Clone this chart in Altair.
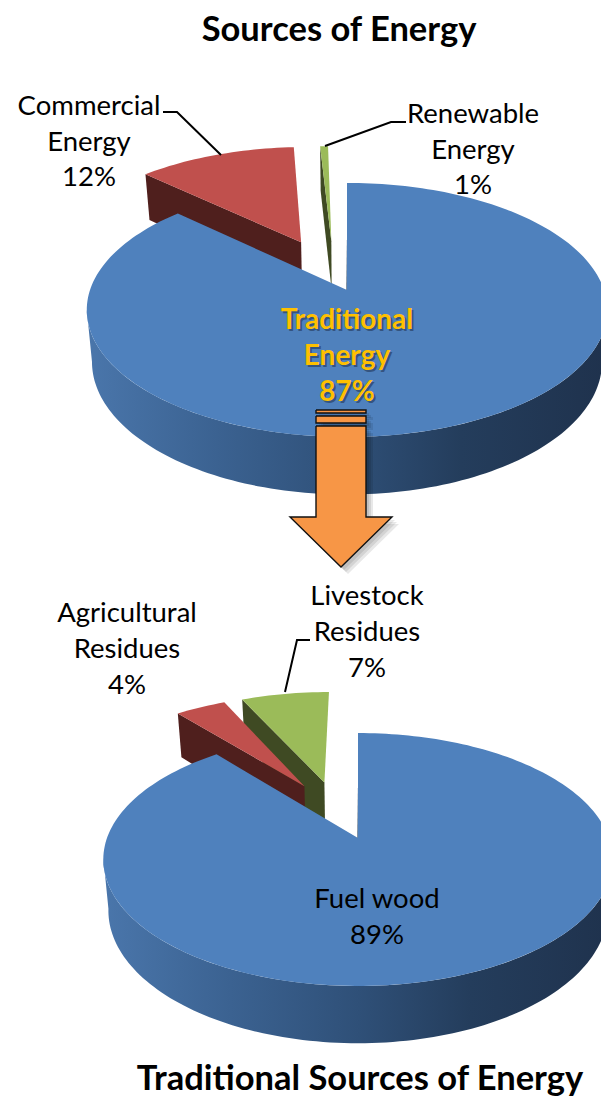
import math
import altair as alt
import pandas as pd

# ---- values ----
top_names = ["Traditional Energy", "Commercial Energy", "Renewable Energy"]
top_shares = [87, 12, 0.6]
top_explode_x = [0, -0.19, -0.065]
top_explode_y = [0, 0.41, 0.42]

low_names = ["Fuel wood", "Agricultural Residues", "Livestock Residues"]
low_shares = [89, 4, 7]
low_explode_x = [0, -0.23, -0.145]
low_explode_y = [0, 0.455, 0.49]

blue, red, green = "#4F81BD", "#C0504D", "#9BBB59"
dark_red, dark_green = "#4F1F1D", "#3F4A23"
orange = "#F79646"

label_text = ["Commercial", "Energy", "12%", "Renewable", "Energy", "1%",
              "Livestock", "Residues", "7%", "Agricultural", "Residues", "4%",
              "Fuel wood", "89%"]
label_x = [89, 89, 89, 473, 473, 473, 367, 367, 367, 127, 127, 127, 377, 377]
label_y = [107, 143, 178, 115, 151, 186, 597, 633, 669, 614, 650, 686, 900, 936]

gold_text = ["Traditional", "Energy", "87%"]
gold_x = [347, 347, 347]
gold_y = [321, 357, 393]

titles = ["Sources of Energy", "Traditional Sources of Energy"]
title_x = [339, 360]
title_y = [31, 1080]

leaders = [[(163, 112), (177, 112), (221, 155)],
           [(406, 122), (391, 122), (325, 146)],
           [(310, 640), (297, 640), (285, 692)]]

arrow_shape = [(316, 426), (366, 426), (366, 517), (392, 517), (341, 567), (290, 517), (316, 517)]
strip_a = [(316, 410), (366, 410), (366, 413), (316, 413)]
strip_b = [(316, 416), (366, 416), (366, 423), (316, 423)]

W, H = 593, 1089
xs = alt.Scale(domain=[8, 601], nice=False, zero=False)
ys = alt.Scale(domain=[1097, 8], nice=False, zero=False)


class Pie:
    def __init__(self, cx, cy, R, Q, k, D, m=0.98):
        self.cx, self.cy, self.R, self.Q, self.k, self.D, self.m = cx, cy, R, Q, k, D, m

    def top(self, t, ex=0, ey=0):
        X = ex + math.sin(math.radians(t))
        Y = ey + math.cos(math.radians(t))
        s = 1 / (1 + self.k * Y)
        return (self.cx + self.R * s * X, self.cy - self.Q * s * Y)

    def low(self, t, ex=0, ey=0):
        X = ex + math.sin(math.radians(t))
        Y = ey + math.cos(math.radians(t))
        s = 1 / (1 + self.k * Y)
        return (self.cx + self.R * self.m * s * X,
                self.cy - self.Q * self.m * s * Y + self.D * s)

    def apex(self, ex, ey, lower=False):
        s = 1 / (1 + self.k * ey)
        if lower:
            return (self.cx + self.R * self.m * s * ex,
                    self.cy - self.Q * self.m * s * ey + self.D * s)
        return (self.cx + self.R * s * ex, self.cy - self.Q * s * ey)

    def wedge(self, a, b, ex=0, ey=0):
        n = max(2, int((b - a) / 1.5))
        pts = [self.apex(ex, ey)]
        pts += [self.top(a + (b - a) * i / n, ex, ey) for i in range(n + 1)]
        return pts

    def rim(self):
        a, b = 99, 261
        lows = [self.low(a + (b - a) * i / 120) for i in range(121)]
        tops = [self.top(b - (b - a) * i / 120) for i in range(121)]
        return lows + tops

    def cut(self, t, ex, ey):
        return [self.top(t, ex, ey), self.apex(ex, ey), self.apex(ex, ey, True), self.low(t, ex, ey)]


def poly(pts, **kw):
    df = pd.DataFrame({"x": [p[0] for p in pts] + [pts[0][0]],
                       "y": [p[1] for p in pts] + [pts[0][1]],
                       "i": list(range(len(pts) + 1))})
    style = dict(strokeWidth=0, clip=True)
    style.update(kw)
    return alt.Chart(df).mark_line(**style).encode(
        x=alt.X("x:Q", scale=xs, axis=None),
        y=alt.Y("y:Q", scale=ys, axis=None),
        order="i:Q")


def path(pts, **kw):
    df = pd.DataFrame({"x": [p[0] for p in pts], "y": [p[1] for p in pts], "i": list(range(len(pts)))})
    style = dict(color="black", strokeWidth=2)
    style.update(kw)
    return alt.Chart(df).mark_line(**style).encode(
        x=alt.X("x:Q", scale=xs, axis=None),
        y=alt.Y("y:Q", scale=ys, axis=None),
        order="i:Q")


def texts(t, x, y, dx=0, dy=0, **kw):
    df = pd.DataFrame({"t": t, "x": x, "y": y})
    return alt.Chart(df).mark_text(font="Lato", align="center", baseline="middle", dx=dx, dy=dy, **kw).encode(
        x=alt.X("x:Q", scale=xs, axis=None),
        y=alt.Y("y:Q", scale=ys, axis=None),
        text="t:N")


rim_fill = alt.LinearGradient(
    gradient="linear", x1=0, x2=1, y1=0, y2=0,
    stops=[alt.GradientStop(color="#4A76AB", offset=0),
           alt.GradientStop(color="#3B6291", offset=0.25),
           alt.GradientStop(color="#2F5078", offset=0.5),
           alt.GradientStop(color="#243D5C", offset=0.72),
           alt.GradientStop(color="#1F324D", offset=1)])


def pie_layers(pie, shares, ex, ey):
    a0 = 0
    a1 = a0 + shares[0] * 3.6
    a2 = a1 + shares[1] * 3.6
    a3 = a2 + shares[2] * 3.6
    return [
        poly(pie.cut(a2, ex[2], ey[2]), fill=dark_green),
        poly(pie.wedge(a2, a3, ex[2], ey[2]), fill=green),
        poly(pie.cut(a1, ex[1], ey[1]), fill=dark_red),
        poly(pie.wedge(a1, a2, ex[1], ey[1]), fill=red),
        path([pie.apex(0, 0), (pie.cx + 0.5, pie.cy - 50)], color="#24405F", strokeWidth=1.2),
        poly(pie.rim(), fill=rim_fill),
        poly(pie.wedge(a0, a1), fill=blue),
    ]


pie_top = Pie(347, 290, 257, 123.9, 0.157, 51)
pie_low = Pie(358, 838, 251, 122.8, 0.17, 50)

layers = []
layers += pie_layers(pie_top, top_shares, top_explode_x, top_explode_y)
layers += pie_layers(pie_low, low_shares, low_explode_x, low_explode_y)

# arrow with soft shadow
for off in (7, 5, 3):
    for shape in (arrow_shape, strip_a, strip_b):
        layers.append(poly([(x + off, y + off) for x, y in shape], fill="black", opacity=0.09))
for shape in (strip_a, strip_b, arrow_shape):
    layers.append(poly(shape, fill=orange, stroke="#111111", strokeWidth=1.4))

for pts in leaders:
    layers.append(path(pts))

layers.append(texts(label_text, label_x, label_y, fontSize=27.5, color="black"))
layers.append(texts(gold_text, gold_x, gold_y, dx=2, dy=2, fontSize=28, fontWeight="bold", color="#1F3050", opacity=0.55))
layers.append(texts(gold_text, gold_x, gold_y, fontSize=28, fontWeight="bold", color="#FFC000"))
layers.append(texts(titles, title_x, title_y, fontSize=34.5, fontWeight="bold", color="black"))

chart = alt.layer(*layers).properties(
    width=W, height=H, padding=0,
    autosize=alt.AutoSizeParams(type="none"),
).configure_view(stroke=None)

chart.save("out.html", embed_options={"renderer": "svg", "actions": False})
